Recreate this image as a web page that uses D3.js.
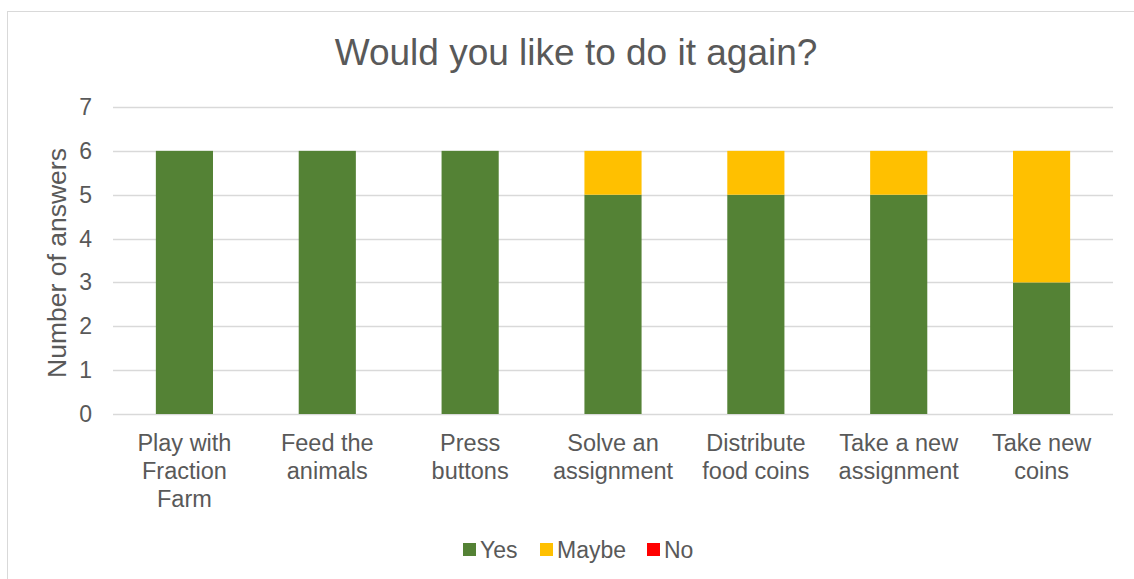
<!DOCTYPE html>
<html>
<head>
<meta charset="utf-8">
<script src="https://cdn.jsdelivr.net/npm/d3@7"></script>
<style>
  body { margin: 0; background: #fff; }
  text { font-family: "Liberation Sans", Arial, sans-serif; fill: #595959; }
</style>
</head>
<body>
<div id="chart"></div>
<script>
// data
var categories = [
  ['Play with', 'Fraction', 'Farm'],
  ['Feed the', 'animals'],
  ['Press', 'buttons'],
  ['Solve an', 'assignment'],
  ['Distribute', 'food coins'],
  ['Take a new', 'assignment'],
  ['Take new', 'coins']
]
var yes = [6, 6, 6, 5, 5, 5, 3]
var maybe = [0, 0, 0, 1, 1, 1, 3]
var no = [0, 0, 0, 0, 0, 0, 0]
var seriesNames = ['Yes', 'Maybe', 'No']
var seriesColors = ['#548235', '#FFC000', '#FF0000']
var yTicks = [0, 1, 2, 3, 4, 5, 6, 7]

var W = 1134, H = 579
var svg = d3.select('#chart').append('svg').attr('width', W).attr('height', H)

// chart border
svg.append('rect').attr('x', 7.5).attr('y', 11.5).attr('width', W + 10).attr('height', H + 10)
  .attr('fill', 'none').attr('stroke', '#d9d9d9').attr('stroke-width', 1)

var plotLeft = 113, plotRight = 1113, plotTop = 107, plotBottom = 414

var x = d3.scaleBand().domain(d3.range(categories.length)).range([plotLeft, plotRight]).paddingInner(0.6).paddingOuter(0.3)
var y = d3.scaleLinear().domain([0, 7]).range([plotBottom, plotTop])

// gridlines
svg.append('g').selectAll('line').data(yTicks).enter().append('line')
  .attr('x1', plotLeft).attr('x2', plotRight)
  .attr('y1', function(d) { return Math.round(y(d)) + 0.5 })
  .attr('y2', function(d) { return Math.round(y(d)) + 0.5 })
  .attr('stroke', '#d9d9d9').attr('stroke-width', 1.3)

// y tick labels
svg.append('g').selectAll('text').data(yTicks).enter().append('text')
  .attr('x', 92).attr('y', function(d) { return y(d) + 8 })
  .attr('text-anchor', 'end').style('font-size', '23px')
  .text(function(d) { return d })

// stacked bars
var rows = categories.map(function(c, i) { return { i: i, Yes: yes[i], Maybe: maybe[i], No: no[i] } })
var stack = d3.stack().keys(seriesNames)(rows)

svg.append('g').selectAll('g').data(stack).enter().append('g')
  .attr('fill', function(d, i) { return seriesColors[i] })
  .selectAll('rect').data(function(d) { return d }).enter().append('rect')
  .attr('x', function(d) { return x(d.data.i) })
  .attr('width', x.bandwidth())
  .attr('y', function(d) { return y(d[1]) })
  .attr('height', function(d) { return y(d[0]) - y(d[1]) })

// category labels
var cat = svg.append('g').selectAll('text').data(categories).enter().append('text')
  .attr('text-anchor', 'middle').style('font-size', '23.5px')
  .attr('x', function(d, i) { return x(i) + x.bandwidth() / 2 })
cat.selectAll('tspan').data(function(d) { return d }).enter().append('tspan')
  .attr('x', function() { return d3.select(this.parentNode).attr('x') })
  .attr('y', function(d, j) { return 451 + j * 28 })
  .text(function(d) { return d })

// title
svg.append('text').attr('x', 576).attr('y', 65).attr('text-anchor', 'middle')
  .style('font-size', '37px').text('Would you like to do it again?')

// y axis title
svg.append('text').attr('transform', 'translate(66,263) rotate(-90)')
  .attr('text-anchor', 'middle').style('font-size', '26.5px').text('Number of answers')

// legend
var legendX = [463, 540, 647]
var lg = svg.append('g').selectAll('g').data(seriesNames).enter().append('g')
  .attr('transform', function(d, i) { return 'translate(' + legendX[i] + ',543)' })
lg.append('rect').attr('width', 13).attr('height', 13)
  .attr('fill', function(d, i) { return seriesColors[i] })
lg.append('text').attr('x', 17).attr('y', 15).style('font-size', '23px')
  .text(function(d) { return d })
</script>
</body>
</html>
